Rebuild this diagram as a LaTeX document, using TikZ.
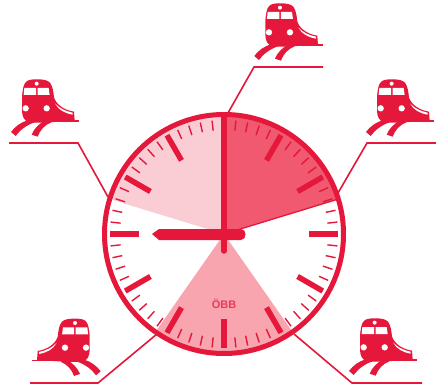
\documentclass[tikz,border=0pt]{standalone}
\usepackage{fontspec}
\setmainfont{Liberation Sans}
\definecolor{obbred}{HTML}{E5173A}
\definecolor{secA}{HTML}{F9CDD3}
\definecolor{secB}{HTML}{F0596F}
\definecolor{secC}{HTML}{F8A5AF}
\tikzset{
  link/.style={draw=obbred,line width=1.6pt},
  minutetick/.style={draw=obbred,line width=1.4pt},
  hourtick/.style={draw=obbred,line width=5.5pt},
  rim/.style={draw=obbred,line width=5pt},
  handline/.style={draw=obbred,line width=5.5pt,line cap=round},
}
\newcommand{\trainicon}[3]{%
  \begin{scope}[shift={(#1,#2)},xscale=#3/3,yscale=1/3]
    \fill[obbred] (66,110) .. controls (68,90) and (70,75) .. (76,68)
      .. controls (82,60) and (92,58) .. (110,58)
      .. controls (130,58) and (142,60) .. (150,68)
      .. controls (158,78) and (160,95) .. (162,112)
      .. controls (168,132) and (190,150) .. (222,155)
      -- (224,182) -- (130,188) -- (90,188)
      .. controls (72,184) and (66,170) .. (66,150) -- cycle;
    \draw[obbred,line width=1.2pt] (130,183) -- (238,183);
    \fill[white] (73,84) -- (108,84) -- (108,105) -- (71,105) -- cycle;
    \fill[white] (113,84) -- (146,84) -- (149,105) -- (113,105) -- cycle;
    \fill[white] (77,145) circle (9.5);
    \fill[white] (140,145) circle (9.5);
    \fill[white] (110,71) circle (6);
    \fill[white] (165,130) .. controls (178,145) and (195,153) .. (218,158)
      -- (218,164) .. controls (195,160) and (175,150) .. (165,130) -- cycle;
    \fill[obbred] (33,216) .. controls (45,200) and (62,186) .. (85,181)
      -- (104,187) .. controls (80,195) and (60,210) .. (47,228) -- cycle;
    \fill[obbred] (95,224) .. controls (102,206) and (118,190) .. (135,182)
      -- (154,187) .. controls (134,195) and (120,210) .. (113,230) -- cycle;
  \end{scope}}
\begin{document}
\begin{tikzpicture}[x=1pt,y=-1pt]
  \useasboundingbox (0,0) rectangle (436,390);
  \fill[white] (0,0) rectangle (436,390);
  \coordinate (c) at (224,234);
  % connectors
  \coordinate (tlA) at (9,143);  \coordinate (tlB) at (78,143);  \coordinate (tlC) at (108,197);
  \coordinate (tA) at (323,67);  \coordinate (tB) at (254,67);   \coordinate (tC) at (228,113);
  \coordinate (trA) at (436,143);\coordinate (trB) at (367,143); \coordinate (trC) at (338,193);
  \coordinate (blA) at (30,383); \coordinate (blB) at (98,383);  \coordinate (blC) at (157,334);
  \coordinate (brA) at (422,383);\coordinate (brB) at (352,383); \coordinate (brC) at (294,334);
  \draw[link] (tlA) -- (tlB) -- (tlC);
  \draw[link] (tA) -- (tB) -- (tC);
  \draw[link] (trA) -- (trB) -- (trC);
  \draw[link] (blA) -- (blB) -- (blC);
  \draw[link] (brA) -- (brB) -- (brC);
  % trains
  \trainicon{0}{60}{1}
  \trainicon{243.3}{-16}{1}
  \trainicon{355}{60}{1}
  \trainicon{338}{299}{1}
  \trainicon{111.7}{299.3}{-1}
  % face
  \fill[white] (c) circle (119.5);
  % sectors (angles measured with y pointing down)
  \fill[secA] (c) -- ++(-90:119) arc (-90:-163:119) -- cycle;
  \fill[secB] (c) -- ++(-90:119) arc (-90:-17:119) -- cycle;
  \fill[secC] (c) -- ++(55:119) arc (55:125:119) -- cycle;
  \draw[obbred,line width=1.3pt] (c) -- ++(-17:118);
  % ticks
  \foreach \a in {0,6,...,354}{
    \draw[minutetick] (c) ++(\a:104) -- ++(\a:10);
  }
  \foreach \a in {0,30,...,330}{
    \draw[hourtick] (c) ++(\a:85) -- ++(\a:29);
  }
  \draw[rim] (c) circle (119.5);
  % hands
  \draw[handline,line cap=butt] (c) -- ++(0,-118);
  \draw[handline] (c) -- ++(0,17);
  \fill[obbred] (152,234) -- (159,229) -- (241,229)
    .. controls (247,229) and (247,240) .. (241,240) -- (159,240) -- cycle;
  \node[text=obbred!85!white,font=\bfseries\fontsize{11}{12}\selectfont,inner sep=0pt] (logo) at (224,304) {ÖBB};
\end{tikzpicture}
\end{document}
